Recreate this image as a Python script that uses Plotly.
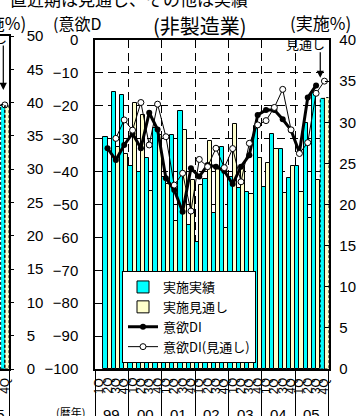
import plotly.graph_objects as go

# ---------------- data ----------------
years = ["99", "00", "01", "02", "03", "04", "05"]
quarter_names = ["1Q", "2Q", "3Q", "4Q"]
quarter_labels = [q for _ in years for q in quarter_names]  # 28 quarters

bar_q = list(range(1, 28))
jisshi_jisseki = [28.2, 33.7, 33.3, 24.7, 23.9, 25.6, 29.3, 23.4, 28.5, 31.4,
                  17.5, 15.5, 23.1, 19.0, 27.0, 23.3, 22.0, 21.5, 29.5, 22.1,
                  28.6, 26.7, 23.2, 24.7, 29.9, 33.7, 32.9]
jisshi_mitoshi = [24.0, 27.0, 26.1, 32.3, 30.9, 21.6, 28.5, 22.5, 18.0, 29.1,
                  23.0, 22.4, 27.7, 24.3, 17.1, 29.8, 24.5, 21.3, 25.6, 25.0,
                  26.7, 21.4, 24.7, 21.5, 18.3, 23.0, 33.0]

di_q = list(range(1, 27))
iyoku_di = [-32.9, -36.5, -31.9, -28.4, -32.9, -22.1, -27.2, -42.0, -45.6, -52.2,
            -39.0, -41.5, -38.0, -38.5, -39.8, -43.8, -38.5, -35.0, -22.8, -21.3,
            -21.3, -24.1, -27.4, -34.2, -17.5, -13.8]

dim_q = list(range(2, 28))
iyoku_di_mitoshi = [-29.9, -24.3, -27.4, -19.0, -31.9, -19.5, -29.4, -44.1, -40.5, -52.0,
                    -36.3, -38.5, -32.9, -38.8, -33.0, -43.1, -31.4, -25.8, -24.5, -20.5,
                    -15.0, -27.3, -34.5, -31.2, -16.2, -12.5]

# neighbouring (cut-off) chart on the left edge
nb_bar_q = [27]
nb_jisseki = [39.7]
nb_mitoshi = [39.5]
nb_dim_q = [26, 27]
nb_di_mitoshi = [-21.0, -20.7]

# ---------------- geometry helpers ----------------
W, H = 361, 416
def px(x):
    return x / W
def py(y):
    return (H - y) / H

X0, X1, Y0, Y1 = 95, 328.6, 40, 369
CYAN = "#00FFFF"
CREAM = "#FFFFCC"
JP = "Noto Sans CJK JP"
LAT = "Liberation Sans"

fig = go.Figure()

n = len(bar_q)
fig.add_trace(go.Bar(
    x=bar_q, y=jisshi_jisseki, name="実施実績", xaxis="x", yaxis="y",
    offsetgroup="a", marker=dict(color=CYAN, line=dict(color="black", width=[1] * (n - 1) + [0]))))
fig.add_trace(go.Bar(
    x=bar_q, y=jisshi_mitoshi, name="実施見通し", xaxis="x", yaxis="y",
    offsetgroup="b", marker=dict(color=CREAM, line=dict(color="black", width=[1] * (n - 1) + [0]))))
fig.add_trace(go.Scatter(
    x=di_q, y=iyoku_di, name="意欲DI", xaxis="x", yaxis="y2", mode="lines+markers",
    line=dict(color="black", width=3), marker=dict(color="black", size=6)))
fig.add_trace(go.Scatter(
    x=dim_q, y=iyoku_di_mitoshi, name="意欲DI(見通し)", xaxis="x", yaxis="y2",
    mode="lines+markers", line=dict(color="black", width=1),
    marker=dict(color="white", size=6, line=dict(color="black", width=1))))

# neighbour traces
fig.add_trace(go.Bar(x=nb_bar_q, y=nb_jisseki, xaxis="x3", yaxis="y3", offsetgroup="a",
                     marker=dict(color=CYAN, line=dict(width=0)), showlegend=False))
fig.add_trace(go.Bar(x=nb_bar_q, y=nb_mitoshi, xaxis="x3", yaxis="y3", offsetgroup="b",
                     marker=dict(color=CREAM, line=dict(width=0)), showlegend=False))
fig.add_trace(go.Scatter(x=nb_dim_q, y=nb_di_mitoshi, xaxis="x3", yaxis="y4",
                         mode="lines+markers", line=dict(color="black", width=1),
                         marker=dict(color="white", size=6, line=dict(color="black", width=1)),
                         showlegend=False))

# dashed outlines for forecast bars
shapes = []
lq = bar_q[-1]
shapes.append(dict(type="rect", xref="x", yref="y", x0=lq - 0.5, x1=lq, y0=0, y1=jisshi_jisseki[-1],
                   line=dict(color="black", width=1, dash="3px,2px"), layer="above"))
shapes.append(dict(type="rect", xref="x", yref="y", x0=lq, x1=lq + 0.5, y0=0, y1=jisshi_mitoshi[-1],
                   line=dict(color="black", width=1, dash="3px,2px"), layer="above"))
nq = nb_bar_q[-1]
shapes.append(dict(type="rect", xref="x3", yref="y3", x0=nq - 0.5, x1=nq, y0=0, y1=nb_jisseki[-1],
                   line=dict(color="black", width=1, dash="3px,2px"), layer="above"))
shapes.append(dict(type="rect", xref="x3", yref="y3", x0=nq, x1=nq + 0.5, y0=0, y1=nb_mitoshi[-1],
                   line=dict(color="black", width=1, dash="3px,2px"), layer="above"))

boundaries = [i * 4 - 0.5 for i in range(len(years) + 1)]
grid_dash = "8px,5px"

annotations = []
# quarter labels (rotated) under the axis
for k, ql in enumerate(quarter_labels):
    annotations.append(dict(xref="x", yref="paper", x=k, y=py(386), text=ql, textangle=-90,
                            showarrow=False, font=dict(family=LAT, size=12, color="black"),
                            xanchor="center", yanchor="middle"))
annotations.append(dict(xref="x3", yref="paper", x=27, y=py(386), text=quarter_names[-1],
                        textangle=-90, showarrow=False,
                        font=dict(family=LAT, size=12, color="black"),
                        xanchor="center", yanchor="middle"))
for i, yr in enumerate(years):
    annotations.append(dict(xref="x", yref="paper", x=i * 4 + 1.5, y=py(414), text=yr,
                            showarrow=False, font=dict(family=LAT, size=15, color="black"),
                            xanchor="center", yanchor="middle"))
annotations += [
    dict(xref="paper", yref="paper", x=px(-4), y=py(414), text="05", showarrow=False,
         font=dict(family=LAT, size=15, color="black"), xanchor="center", yanchor="middle"),
    dict(xref="paper", yref="paper", x=px(70.5), y=py(412), text="(暦年)", showarrow=False,
         font=dict(family=JP, size=11, color="black"), xanchor="center", yanchor="middle"),
    dict(xref="paper", yref="paper", x=px(250), y=py(-1.5), text="直近期は見通し、その他は実績",
         showarrow=False, font=dict(family=JP, size=17, color="black"),
         xanchor="right", yanchor="middle"),
    dict(xref="paper", yref="paper", x=px(200), y=py(25), text="(非製造業)", showarrow=False,
         font=dict(family=JP, size=20, color="black"), xanchor="center", yanchor="middle"),
    dict(xref="paper", yref="paper", x=px(51), y=py(23), text="(意欲D", showarrow=False,
         font=dict(family=JP, size=16, color="black"), xanchor="left", yanchor="middle"),
    dict(xref="paper", yref="paper", x=px(353), y=py(22.5), text="(実施%)", showarrow=False,
         font=dict(family=JP, size=17, color="black"), xanchor="right", yanchor="middle"),
    dict(xref="paper", yref="paper", x=px(28), y=py(22.5), text="(実施%)", showarrow=False,
         font=dict(family=JP, size=17, color="black"), xanchor="right", yanchor="middle"),
    dict(xref="paper", yref="paper", x=px(327), y=py(44), text="見通し", showarrow=False,
         font=dict(family=JP, size=13, color="black"), xanchor="right", yanchor="middle"),
    dict(xref="paper", yref="paper", x=px(9), y=py(37), text="見通し", showarrow=False,
         font=dict(family=JP, size=13, color="black"), xanchor="right", yanchor="middle"),
    dict(xref="x", yref="y2", x=26.5, y=-11.5, text="", showarrow=True, ax=0, ay=-27,
         arrowhead=2, arrowsize=1.2, arrowwidth=1.2, arrowcolor="black"),
    dict(xref="paper", yref="paper", x=px(3.3), y=py(90), text="", showarrow=True, ax=0, ay=-46,
         arrowhead=2, arrowsize=1.2, arrowwidth=1.2, arrowcolor="black"),
]

fig.update_layout(
    width=W, height=H, autosize=False,
    margin=dict(l=0, r=0, t=0, b=0, pad=0),
    paper_bgcolor="white", plot_bgcolor="rgba(0,0,0,0)",
    barmode="group", bargap=0, bargroupgap=0,
    font=dict(family=LAT + ", " + JP, size=15, color="black"),
    showlegend=True,
    legend=dict(x=px(122), y=py(271), xanchor="left", yanchor="top",
                bgcolor="white", bordercolor="black", borderwidth=1,
                font=dict(family=JP, size=13, color="black"),
                tracegroupgap=0),
    xaxis=dict(domain=[px(X0), px(X1)], range=[-0.5, 27.5], anchor="y",
               showline=True, linecolor="black", linewidth=1.5, mirror=True,
               tickmode="array", tickvals=boundaries, ticks="outside", ticklen=48,
               tickcolor="black", tickwidth=1, showticklabels=False,
               showgrid=True, gridcolor="black", gridwidth=1, griddash=grid_dash,
               zeroline=False, automargin=False, fixedrange=True),
    yaxis=dict(domain=[py(Y1), py(Y0)], range=[0, 40], anchor="x", side="right",
               tickmode="linear", tick0=0, dtick=5, ticks="inside", ticklen=4,
               tickcolor="black", showline=True, linecolor="black", linewidth=1.5,
               showgrid=False, zeroline=False, tickfont=dict(family=LAT, size=15),
               ticklabelstandoff=6, automargin=False),
    yaxis2=dict(overlaying="y", anchor="x", side="left", range=[-100, 0],
                tickmode="linear", tick0=0, dtick=10, ticks="inside", ticklen=5,
                tickcolor="black", showline=True, linecolor="black", linewidth=1.5,
                showgrid=True, gridcolor="black", gridwidth=1, griddash=grid_dash,
                zeroline=False, tickfont=dict(family=LAT, size=15),
                ticklabelstandoff=12, automargin=False),
    xaxis3=dict(domain=[0, px(9)], range=[26.42, 27.5], anchor="y3",
                showline=True, linecolor="black", linewidth=1.5, mirror=True,
                tickmode="array", tickvals=[27.5], ticks="outside", ticklen=48,
                tickcolor="black", showticklabels=False, showgrid=False, zeroline=False,
                automargin=False),
    yaxis3=dict(domain=[py(Y1), py(36)], range=[0, 50], anchor="x3", side="right",
                tickmode="linear", tick0=0, dtick=5, ticks="outside", ticklen=3,
                tickcolor="black", showline=True, linecolor="black", linewidth=1.5,
                showgrid=False, zeroline=False, tickfont=dict(family=LAT, size=15),
                ticklabelstandoff=10, automargin=False),
    yaxis4=dict(overlaying="y3", anchor="x3", side="left", range=[-100, 0], visible=False),
    shapes=shapes,
    annotations=annotations,
)

fig.write_html("out.html")
